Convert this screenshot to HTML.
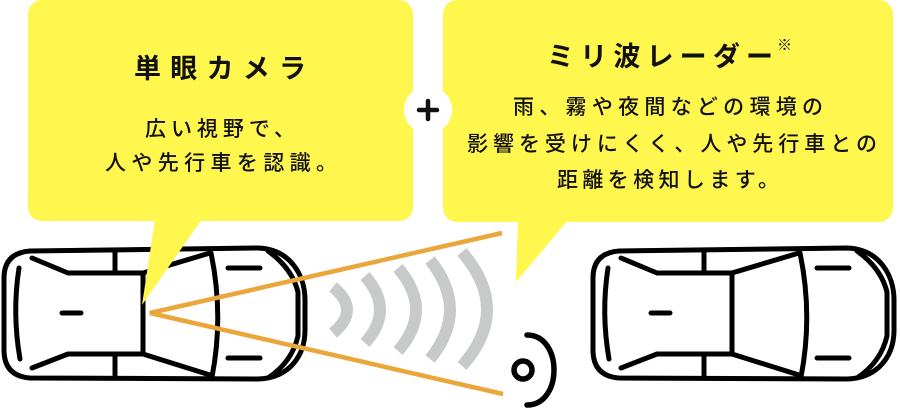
<!DOCTYPE html>
<html><head><meta charset="utf-8"><style>
html,body{margin:0;padding:0;background:#fff;}
svg{display:block;}
text{font-family:"Liberation Sans","Noto Sans CJK JP",sans-serif;fill:#111;}
</style></head><body>
<svg width="900" height="411" viewBox="0 0 900 411" xmlns="http://www.w3.org/2000/svg">
<defs>
<g id="car" fill="none" stroke="#000" stroke-width="5" stroke-linecap="round" stroke-linejoin="round">
<path d="M30 251 L258 248 C290 249 305 275 305 300 L305 330 C305 355 290 378 258 379 L30 378 Q4 376 4 350 L4 278 Q4 253 30 251 Z"/>
<path d="M19 268 Q12 313 20 359"/>
<path d="M32 258 L68 273 L143 273 L143 354 L68 354 L32 368"/>
<path d="M115 250 V273 M115 354 V377"/>
<path d="M143 273 L210 253 M143 354 L210 375"/>
<path d="M211 253 Q224 315 212 377"/>
<path d="M228 268 H260 M228 358 H260 M62 313 H81"/>
<path d="M268 251 Q292 268 298 292 L298 336 Q292 362 268 378"/>
</g>
</defs>
<use href="#car"/>
<use href="#car" transform="translate(589,0)"/>

<!-- bubbles -->
<rect x="28" y="0" width="385" height="221" rx="14" fill="#fff64e"/>
<polygon points="155,219 202,219 142,305" fill="#fff64e"/>
<rect x="443" y="0" width="450" height="222" rx="14" fill="#fff64e"/>
<polygon points="518,220 568,220 516,282" fill="#fff64e"/>
<circle cx="428" cy="110" r="24" fill="#fff"/>
<path d="M419 110 H437 M428 101 V119" stroke="#111" stroke-width="4.5" stroke-linecap="round"/>

<!-- text -->
<text x="220" y="78" font-size="27" font-weight="bold" text-anchor="middle" textLength="172">単眼カメラ</text>
<text x="220" y="136" font-size="21" font-weight="500" text-anchor="middle" textLength="150">広い視野で、</text>
<text x="221" y="170" font-size="21" font-weight="500" text-anchor="middle" textLength="232">人や先行車を認識。</text>

<text x="660" y="66" font-size="27" font-weight="bold" text-anchor="middle" textLength="226">ミリ波レーダー</text>
<text x="777" y="50" font-size="15">※</text>
<text x="668" y="114" font-size="21" font-weight="500" text-anchor="middle" textLength="310">雨、霧や夜間などの環境の</text>
<text x="672" y="151" font-size="21" font-weight="500" text-anchor="middle" textLength="410">影響を受けにくく、人や先行車との</text>
<text x="668" y="187" font-size="21" font-weight="500" text-anchor="middle" textLength="222">距離を検知します。</text>

<!-- orange lines -->
<path d="M502 233 L150 313 L503 394" fill="none" stroke="#eba63a" stroke-width="4.5"/>

<!-- radar waves -->
<g fill="none" stroke="#c8c9c9" stroke-width="12">
<path d="M333 287 Q361 310 333 333"/>
<path d="M365 276 Q395 310 365 343"/>
<path d="M398 268 Q434 310 398 351"/>
<path d="M430 260 Q470 310 430 359"/>
<path d="M462 252 Q512 310 462 366"/>
</g>

<!-- sensor -->
<g fill="none" stroke="#000" stroke-width="5.5" stroke-linecap="round">
<circle cx="523" cy="370" r="9"/>
<path d="M527 335 C563 335 563 405 527 405"/>
</g>
</svg>
</body></html>
